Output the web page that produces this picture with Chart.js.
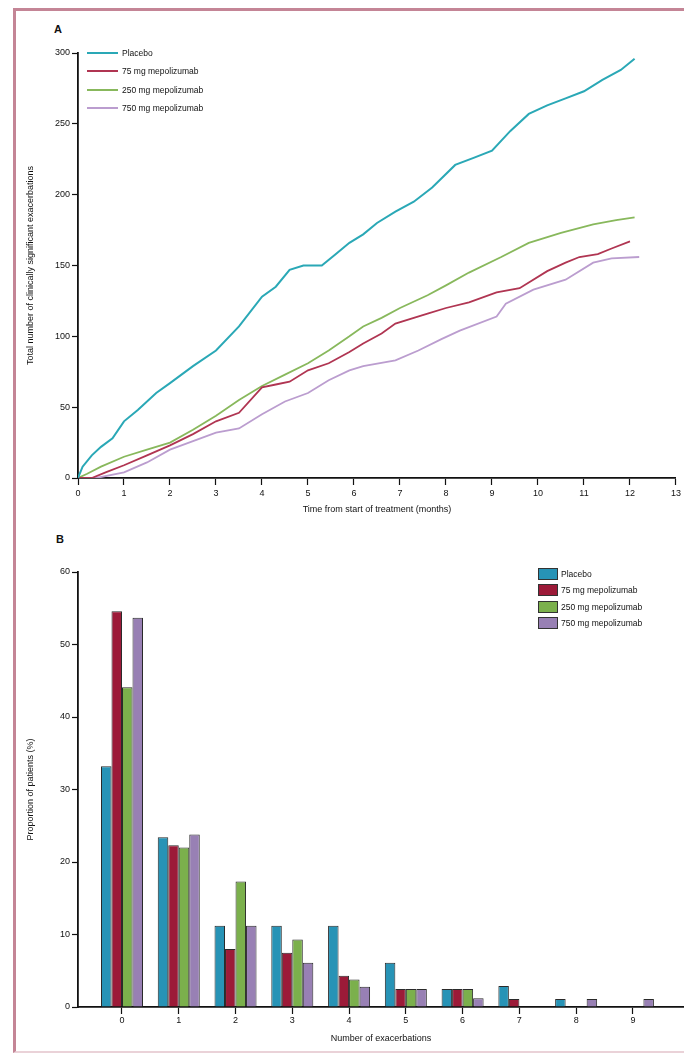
<!DOCTYPE html>
<html>
<head>
<meta charset="utf-8">
<script src="https://cdn.jsdelivr.net/npm/chart.js@4.4.1/dist/chart.umd.min.js"></script>
<style>
  body { margin: 0; background: #fff; font-family: "Liberation Sans", Arial, sans-serif; }
  #page { position: relative; width: 684px; height: 1054px; overflow: hidden; }
  #frame { position: absolute; left: 13px; top: 8px; width: 720px; height: 1040px;
           border-left: 3px solid #c48596; border-top: 3px solid #c48596; border-bottom: 2px solid #ead2d8; }
  .panel { position: absolute; font-size: 11px; font-weight: bold; color: #111; }
  canvas { position: absolute; left: 0; }
  .legend { position: absolute; font-size: 8.5px; color: #111; }
  .legend .row { display: flex; align-items: center; white-space: nowrap; }
  #legendA .row { height: 18.3px; }
  #legendA .sw { width: 31px; height: 2px; margin-right: 4px; }
  #legendB .row { height: 16.3px; }
  #legendB .sw { width: 18px; height: 10px; border: 1px solid #333; margin-right: 3px; }
</style>
</head>
<body>
<div id="page">
  <div id="frame"></div>
  <div class="panel" style="left:54px; top:23px;">A</div>
  <div class="panel" style="left:56px; top:533px;">B</div>
  <canvas id="chartA" width="684" height="530" style="top:0"></canvas>
  <canvas id="chartB" width="684" height="524" style="top:530px"></canvas>
  <div class="legend" id="legendA" style="left:87px; top:44px;"></div>
  <div class="legend" id="legendB" style="left:538px; top:566px;"></div>
</div>
<script>
// series shared by both panels
const seriesNames = ['Placebo', '75 mg mepolizumab', '250 mg mepolizumab', '750 mg mepolizumab'];
const lineColors = ['#2aa8b6', '#b03552', '#88b85c', '#bb9dcf'];
const barColors = ['#2793b6', '#9c1a38', '#7bb04c', '#9880b4'];

// panel A: cumulative exacerbations over time (months)
const placeboMonths = [0, 0.1, 0.3, 0.5, 0.75, 1.0, 1.3, 1.7, 2.0, 2.5, 3.0, 3.5, 4.0, 4.3, 4.6, 4.9, 5.3, 5.6, 5.9, 6.2, 6.5, 6.9, 7.3, 7.7, 8.2, 8.6, 9.0, 9.4, 9.8, 10.2, 10.6, 11.0, 11.4, 11.8, 12.1];
const placeboCounts = [0, 8, 16, 22, 28, 40, 48, 60, 67, 79, 90, 107, 128, 135, 147, 150, 150, 158, 166, 172, 180, 188, 195, 205, 221, 226, 231, 245, 257, 263, 268, 273, 281, 288, 296];
const mg75Months = [0, 0.3, 0.6, 1.0, 1.5, 2.0, 2.5, 3.0, 3.5, 4.0, 4.3, 4.6, 5.0, 5.45, 5.9, 6.2, 6.6, 6.9, 7.3, 7.6, 8.0, 8.5, 9.1, 9.6, 10.2, 10.6, 10.9, 11.3, 11.6, 12.0];
const mg75Counts = [0, 0, 4, 9, 16, 23, 31, 40, 46, 64, 66, 68, 76, 81, 89, 95, 102, 109, 113, 116, 120, 124, 131, 134, 146, 152, 156, 158, 162, 167];
const mg250Months = [0, 0.2, 0.5, 1.0, 1.5, 2.0, 2.5, 3.0, 3.5, 4.0, 4.5, 5.0, 5.45, 5.9, 6.2, 6.6, 7.0, 7.6, 8.0, 8.5, 9.2, 9.8, 10.5, 11.2, 11.7, 12.1];
const mg250Counts = [0, 3, 8, 15, 20, 25, 34, 44, 55, 65, 73, 81, 90, 100, 107, 113, 120, 129, 136, 145, 156, 166, 173, 179, 182, 184];
const mg750Months = [0, 0.4, 1.0, 1.5, 2.0, 2.5, 3.0, 3.5, 4.0, 4.5, 5.0, 5.45, 5.9, 6.2, 6.9, 7.4, 7.9, 8.3, 9.1, 9.3, 9.9, 10.6, 11.2, 11.6, 12.2];
const mg750Counts = [0, 0, 4, 11, 20, 26, 32, 35, 45, 54, 60, 69, 76, 79, 83, 90, 98, 104, 114, 123, 133, 140, 152, 155, 156];
const monthTicks = [0, 1, 2, 3, 4, 5, 6, 7, 8, 9, 10, 11, 12, 13];
const countTicks = [0, 50, 100, 150, 200, 250, 300];

// panel B: proportion of patients (%) by number of exacerbations
const exacerbationCounts = [0, 1, 2, 3, 4, 5, 6, 7, 8, 9];
const placeboPct = [33.2, 23.4, 11.2, 11.2, 11.2, 6.1, 2.5, 2.9, 1.1, 0];
const mg75Pct = [54.6, 22.3, 8.0, 7.5, 4.3, 2.5, 2.5, 1.1, 0, 0];
const mg250Pct = [44.1, 22.0, 17.3, 9.3, 3.8, 2.5, 2.5, 0, 0, 0];
const mg750Pct = [53.7, 23.8, 11.2, 6.1, 2.8, 2.5, 1.2, 0, 1.1, 1.1];
const pctTicks = [0, 10, 20, 30, 40, 50, 60];

const lineMonths = [placeboMonths, mg75Months, mg250Months, mg750Months];
const lineCounts = [placeboCounts, mg75Counts, mg250Counts, mg750Counts];
const barPct = [placeboPct, mg75Pct, mg250Pct, mg750Pct];

const tickFont = { family: 'Liberation Sans, Arial, sans-serif', size: 9 };
const ink = '#111';

function axisStyle(tickLength, padding) {
    return {
        grid: { drawOnChartArea: false, offset: false, tickLength: tickLength, color: ink, tickWidth: 1.2 },
        border: { color: ink, width: 1.8 },
        ticks: { color: ink, font: tickFont, padding: padding, autoSkip: false, maxRotation: 0 }
    };
}

function fixTicks(values) {
    return scale => { scale.ticks = values.map(v => ({ value: v })); };
}

// legends
seriesNames.forEach((name, i) => {
    const rowA = document.createElement('div');
    rowA.className = 'row';
    rowA.innerHTML = `<span class="sw" style="background:${lineColors[i]}"></span><span>${name}</span>`;
    document.getElementById('legendA').appendChild(rowA);

    const rowB = document.createElement('div');
    rowB.className = 'row';
    rowB.innerHTML = `<span class="sw" style="background:${barColors[i]}"></span><span>${name}</span>`;
    document.getElementById('legendB').appendChild(rowB);
});

new Chart(document.getElementById('chartA'), {
    type: 'line',
    data: {
        datasets: seriesNames.map((name, i) => ({
            label: name,
            data: lineMonths[i].map((m, j) => ({ x: m, y: lineCounts[i][j] })),
            borderColor: lineColors[i],
            borderWidth: i === 0 ? 2 : 1.8,
            pointRadius: 0,
            tension: 0
        }))
    },
    options: {
        responsive: false,
        animation: false,
        layout: { padding: { top: 53, right: 5, left: 0, bottom: 0 } },
        plugins: { legend: { display: false }, tooltip: { enabled: false } },
        scales: {
            x: {
                type: 'linear', min: 0, max: 13,
                ...axisStyle(7, 3),
                afterBuildTicks: fixTicks(monthTicks),
                afterFit: s => { s.height = 52; },
                title: { display: true, text: 'Time from start of treatment (months)', color: ink, font: tickFont, padding: { bottom: 14.6 } }
            },
            y: {
                min: 0, max: 300,
                ...axisStyle(6, 2),
                afterBuildTicks: fixTicks(countTicks),
                afterFit: s => { s.width = 78; },
                title: { display: true, text: 'Total number of clinically significant exacerbations', color: ink, font: tickFont, padding: { top: 25 } }
            }
        }
    }
});

new Chart(document.getElementById('chartB'), {
    type: 'bar',
    data: {
        datasets: seriesNames.map((name, i) => ({
            label: name,
            data: exacerbationCounts.map((n, j) => ({ x: n, y: barPct[i][j] })),
            backgroundColor: barColors[i],
            borderColor: '#2a2a2a',
            borderWidth: 1,
            categoryPercentage: 0.74,
            barPercentage: 1.0
        }))
    },
    options: {
        responsive: false,
        animation: false,
        layout: { padding: { top: 42, right: 0, left: 0, bottom: 0 } },
        plugins: { legend: { display: false }, tooltip: { enabled: false } },
        scales: {
            x: {
                type: 'linear', min: -0.775, max: 9.9, offset: false,
                ...axisStyle(7, 1),
                afterBuildTicks: fixTicks(exacerbationCounts),
                afterFit: s => { s.height = 47; },
                title: { display: true, text: 'Number of exacerbations', color: ink, font: tickFont, padding: { bottom: 9.6 } }
            },
            y: {
                min: 0, max: 60,
                ...axisStyle(6, 2),
                afterBuildTicks: fixTicks(pctTicks),
                afterFit: s => { s.width = 78; },
                title: { display: true, text: 'Proportion of patients (%)', color: ink, font: tickFont, padding: { top: 25 } }
            }
        }
    }
});
</script>
</body>
</html>
